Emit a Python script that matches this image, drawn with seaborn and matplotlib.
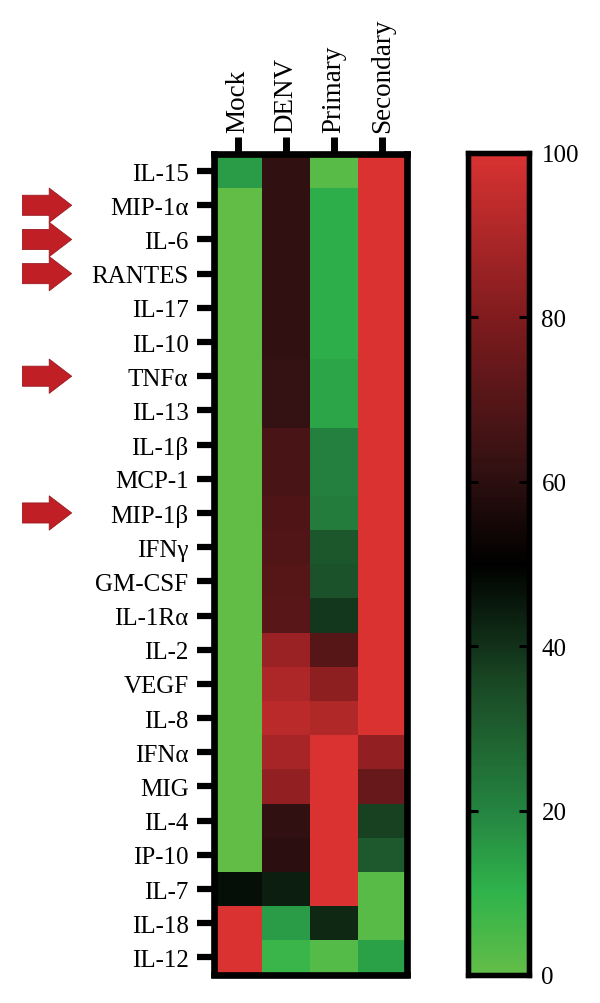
import numpy as np
import pandas as pd
import matplotlib
matplotlib.use("Agg")
import matplotlib.pyplot as plt
from matplotlib.colors import LinearSegmentedColormap
import seaborn as sns

cytokines = ["IL-15", "MIP-1α", "IL-6", "RANTES", "IL-17", "IL-10", "TNFα", "IL-13",
             "IL-1β", "MCP-1", "MIP-1β", "IFNγ", "GM-CSF", "IL-1Rα", "IL-2", "VEGF",
             "IL-8", "IFNα", "MIG", "IL-4", "IP-10", "IL-7", "IL-18", "IL-12"]
mock = [15, 0, 0, 0, 0, 0, 0, 0, 0, 0, 0, 0, 0, 0, 0, 0, 0, 0, 0, 0, 0, 47, 100, 100]
denv = [61, 61, 61, 61, 61, 61, 62, 62, 67, 67, 68, 69, 70, 71, 86, 90, 93, 89, 84, 61, 60, 44, 15, 8]
primary = [2, 11, 11, 11, 11, 11, 13, 13, 21, 21, 22, 32, 33, 39, 70, 83, 91, 100, 100, 100, 100, 100, 42, 3]
secondary = [100, 100, 100, 100, 100, 100, 100, 100, 100, 100, 100, 100, 100, 100, 100, 100,
             100, 84, 74, 37, 31, 2, 2, 14]
flagged = ["MIP-1α", "IL-6", "RANTES", "TNFα", "MIP-1β"]

scale_stops = [(0.0, "#62bd47"), (0.10, "#2fb34b"), (0.20, "#248340"), (0.35, "#1a4a25"),
               (0.50, "#000000"), (0.62, "#341112"), (0.80, "#7f1b1e"), (1.0, "#d93231")]
cmap = LinearSegmentedColormap.from_list("green_black_red", scale_stops)

sns.set_style("white")
plt.rcParams["font.family"] = ["Liberation Serif", "DejaVu Serif"]
plt.rcParams["text.color"] = "black"

W, H = 600, 1004
fig = plt.figure(figsize=(W / 100, H / 100), dpi=100)


def pixel_axes(x0, y0, x1, y1):
    return fig.add_axes([x0 / W, 1 - y1 / H, (x1 - x0) / W, (y1 - y0) / H])


ax = pixel_axes(213.5, 155, 406.5, 975.5)
cax = pixel_axes(467.5, 154, 529, 976)

table = pd.DataFrame({"Mock": mock, "DENV": denv, "Primary": primary, "Secondary": secondary},
                     index=cytokines)
sns.heatmap(table, ax=ax, cmap=cmap, vmin=0, vmax=100, cbar_ax=cax,
            cbar_kws={"ticks": [0, 20, 40, 60, 80, 100]})

# Main panel frame, labels on the left and the top
ax.xaxis.tick_top()
ax.tick_params(axis="x", top=True, bottom=False, length=12, width=5, color="black",
               labelsize=19.5, labelcolor="black", pad=4, labelrotation=90)
ax.tick_params(axis="y", left=True, length=12, width=4.5, color="black",
               labelsize=18, labelcolor="black", pad=6, labelrotation=0)
for label in ax.get_yticklabels():
    label.set_verticalalignment("center_baseline")
for spine in ax.spines.values():
    spine.set_visible(True)
    spine.set_linewidth(4.8)
    spine.set_color("black")

# Colour bar frame with inward ticks on both sides
cax.set_axisbelow(False)
cax.tick_params(axis="y", left=True, right=True, direction="in", length=7, width=2.2,
                color="black", labelsize=18, labelcolor="black", pad=9)
for label in cax.get_yticklabels():
    label.set_verticalalignment("center_baseline")
for spine in cax.spines.values():
    spine.set_visible(True)
    spine.set_linewidth(3.8)
    spine.set_color("black")
cbar = ax.collections[0].colorbar
cbar.outline.set_visible(True)
cbar.outline.set_linewidth(3.8)
cbar.outline.set_edgecolor("black")

# Red arrows beside the flagged cytokines
trans = ax.get_yaxis_transform()
for name in flagged:
    row = cytokines.index(name) + 0.5
    ax.annotate("", xy=(-0.735, row), xytext=(-0.99, row), xycoords=trans, textcoords=trans,
                annotation_clip=False,
                arrowprops=dict(arrowstyle="simple,head_length=0.95,head_width=1.45,tail_width=0.85",
                                mutation_scale=17, shrinkA=0, shrinkB=0,
                                facecolor="#c01f26", edgecolor="#9a1a20", linewidth=0.6))

fig.savefig("out.png", dpi=100, facecolor="white")
